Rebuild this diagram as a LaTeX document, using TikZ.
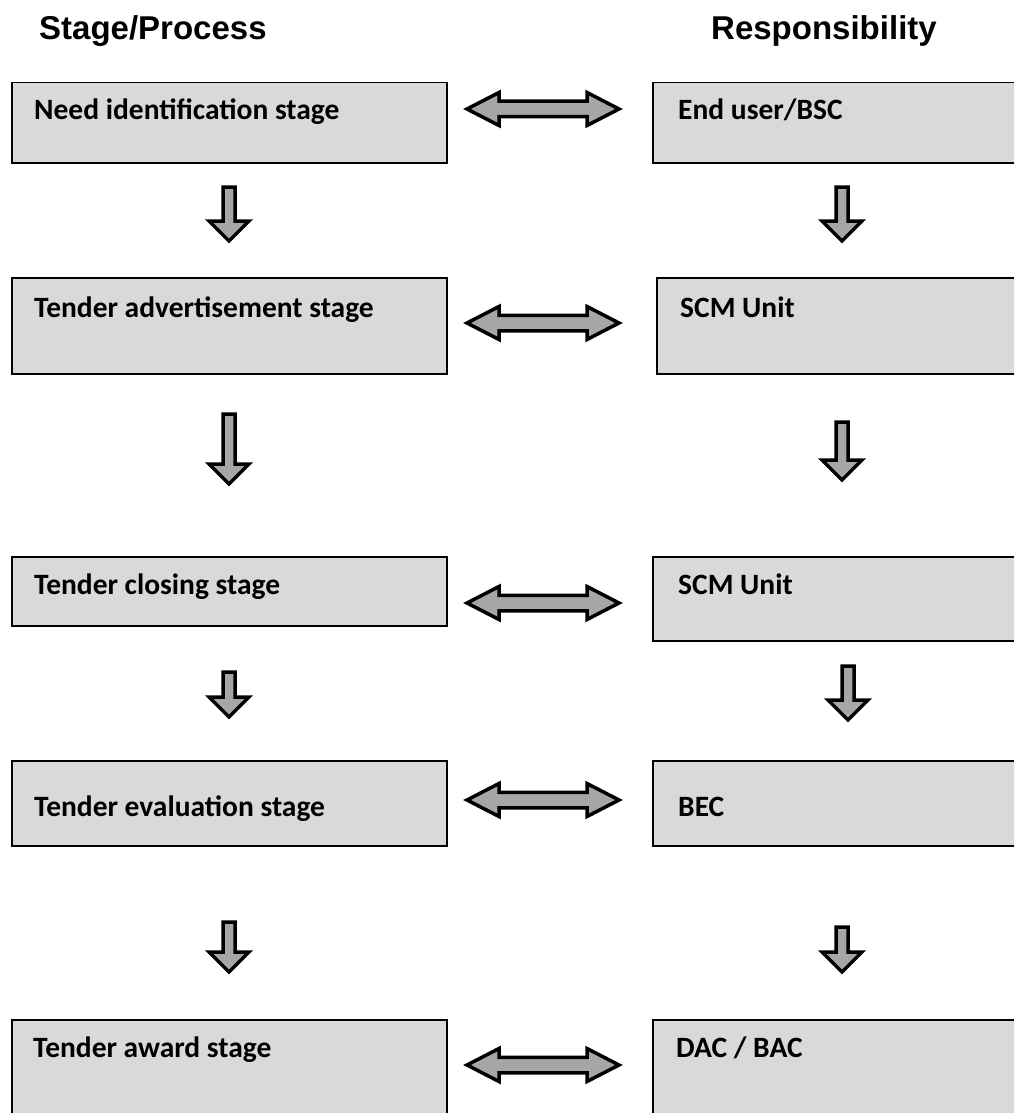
\documentclass[tikz,border=0pt]{standalone}
\usepackage{fontspec}
\setmainfont{Carlito}
\newfontfamily\headfont{Liberation Sans}
\definecolor{boxgray}{HTML}{D9D9D9}
\definecolor{arrgray}{HTML}{A6A6A6}

\begin{document}
\begin{tikzpicture}[x=1pt, y=-1pt,
  box/.style={draw, line width=1.5pt, fill=boxgray, anchor=north west,
              inner sep=0pt, minimum width=#1},
  box/.default=435pt,
  lbl/.style={anchor=base west, inner sep=0pt,
              font=\bfseries\fontsize{29.5}{34}\selectfont},
  hd/.style={anchor=base west, inner sep=0pt,
             font=\headfont\bfseries\fontsize{33}{38}\selectfont},
  arr/.style={draw, line width=3.5pt, fill=arrgray},
  harr/.pic={\path[arr] (-76,0) -- (-44,-16.5) -- (-44,-7.75) -- (44,-7.75)
      -- (44,-16.5) -- (76,0) -- (44,16.5) -- (44,7.75) -- (-44,7.75)
      -- (-44,16.5) -- cycle;},
  darr/.pic={\path[arr] (-6,0) -- (6,0) -- (6,#1-20) -- (20,#1-20) -- (0,#1)
      -- (-20,#1-20) -- (-6,#1-20) -- cycle;}]
\fill[white] (0,0) rectangle (1013,1113);
\useasboundingbox (0,0) rectangle (1013,1113);

% column heads
\node[hd] (hs) at (39,40) {Stage/Process};
\node[hd] (hr) at (711,40) {Responsibility};

% stage boxes
\node[box, minimum height=80pt] (s1) at (11,82) {};
\node[box, minimum height=96pt] (s2) at (11,277) {};
\node[box, minimum height=69pt] (s3) at (11,556) {};
\node[box, minimum height=85pt] (s4) at (11,760) {};
\node[box, minimum height=120pt] (s5) at (11,1019) {};
\node[lbl] (s1t) at ([shift={(23,38)}]s1.north west) {Need identification stage};
\node[lbl] (s2t) at ([shift={(23,40)}]s2.north west) {Tender advertisement stage};
\node[lbl] (s3t) at ([shift={(23,38)}]s3.north west) {Tender closing stage};
\node[lbl] (s4t) at ([shift={(23,56)}]s4.north west) {Tender evaluation stage};
\node[lbl] (s5t) at ([shift={(22,38)}]s5.north west) {Tender award stage};

% responsibility boxes
\node[box=380pt, minimum height=80pt] (r1) at (652,82) {};
\node[box=380pt, minimum height=96pt] (r2) at (656,277) {};
\node[box=380pt, minimum height=84pt] (r3) at (652,556) {};
\node[box=380pt, minimum height=85pt] (r4) at (652,760) {};
\node[box=380pt, minimum height=120pt] (r5) at (652,1019) {};
\node[lbl] (r1t) at ([shift={(26,38)}]r1.north west) {End user/BSC};
\node[lbl] (r2t) at ([shift={(24,40)}]r2.north west) {SCM Unit};
\node[lbl] (r3t) at ([shift={(26,38)}]r3.north west) {SCM Unit};
\node[lbl] (r4t) at ([shift={(26,56)}]r4.north west) {BEC};
\node[lbl] (r5t) at ([shift={(24,38)}]r5.north west) {DAC / BAC};

% links stage <-> responsibility
\pic (h1) at (543,109) {harr};
\pic (h2) at (543,323) {harr};
\pic (h3) at (543,603) {harr};
\pic (h4) at (543,800) {harr};
\pic (h5) at (543,1065) {harr};

% flow down
\pic (ds1) at (229,187) {darr=54};
\pic (ds2) at (229,414) {darr=70};
\pic (ds3) at (229,672) {darr=45};
\pic (ds4) at (229,922) {darr=50};
\pic (dr1) at (842,187) {darr=54};
\pic (dr2) at (842,422) {darr=58};
\pic (dr3) at (848,666) {darr=54};
\pic (dr4) at (842,927) {darr=45};
\end{tikzpicture}
\end{document}
